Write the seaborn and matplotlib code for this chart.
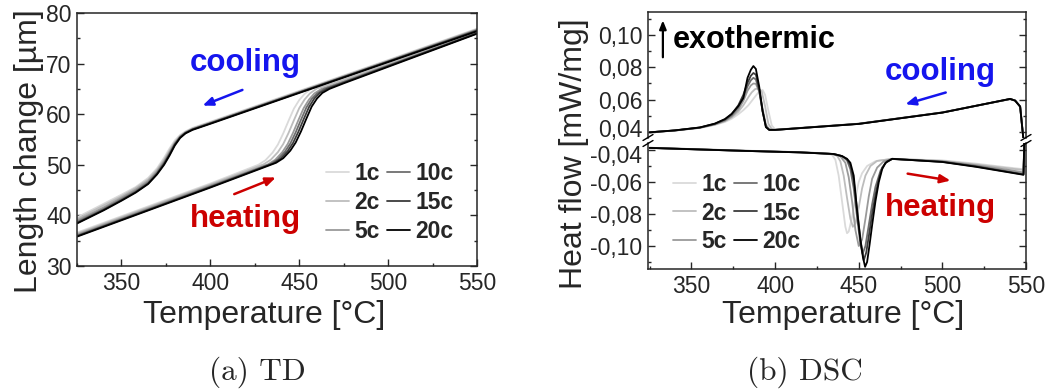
import matplotlib
matplotlib.use("Agg")
import matplotlib.pyplot as plt
import seaborn as sns
from matplotlib.ticker import MultipleLocator, FixedLocator, FuncFormatter
from matplotlib.lines import Line2D
from matplotlib.transforms import ScaledTranslation

# ---------------- data ----------------
cycles = ["1c", "2c", "5c", "10c", "15c", "20c"]
cycle_colors = ["#dadada", "#bdbdbd", "#9a9a9a", "#6e6e6e", "#3c3c3c", "#000000"]

# TD heating branch (temperature, length change)
td_heat_T_1c = [325, 400, 427, 431, 435, 438, 441, 444, 447, 450, 453, 457, 468, 550]
td_heat_L_1c = [36.6, 46.3, 50.0, 50.9, 52.4, 54.0, 56.2, 58.7, 61.1, 62.8, 64.0, 65.1, 66.3, 76.3]
td_heat_T_2c = [325, 400, 430, 434, 438, 441, 444, 447, 450, 453, 456, 460, 470, 550]
td_heat_L_2c = [36.4, 46.1, 50.1, 51.0, 52.5, 54.1, 56.3, 58.8, 61.2, 62.9, 64.1, 65.1, 66.2, 76.2]
td_heat_T_5c = [325, 400, 432.5, 436.5, 440.5, 443.5, 446.5, 449.5, 452.5, 455.5, 458.5, 462.5, 472, 550]
td_heat_L_5c = [36.2, 45.9, 50.1, 51.0, 52.5, 54.1, 56.3, 58.8, 61.2, 62.9, 64.1, 65.0, 66.1, 76.1]
td_heat_T_10c = [325, 400, 434, 438, 442, 445, 448, 451, 454, 457, 460, 464, 473, 550]
td_heat_L_10c = [36.0, 45.7, 50.2, 51.1, 52.6, 54.2, 56.4, 58.9, 61.3, 63.0, 64.1, 65.0, 66.1, 76.0]
td_heat_T_15c = [325, 400, 435.5, 439.5, 443.5, 446.5, 449.5, 452.5, 455.5, 458.5, 461.5, 465.5, 474, 550]
td_heat_L_15c = [35.9, 45.6, 50.3, 51.2, 52.7, 54.3, 56.5, 59.0, 61.4, 63.1, 64.2, 65.0, 66.1, 76.0]
td_heat_T_20c = [325, 400, 437, 441, 445, 448, 451, 454, 457, 460, 463, 467, 475, 550]
td_heat_L_20c = [35.8, 45.5, 50.4, 51.3, 52.8, 54.4, 56.6, 59.1, 61.5, 63.1, 64.2, 65.0, 66.1, 75.9]

# TD cooling branch
td_cool_T = [550, 500, 450, 400, 390, 386, 383, 380, 377, 374, 370, 365, 358, 350, 340, 325]
td_cool_L_1c = [76.9, 70.7, 64.6, 58.5, 57.3, 56.6, 55.9, 54.8, 53.2, 51.4, 49.3, 47.4, 45.6, 44.1, 42.3, 39.6]
td_cool_L_2c = [76.8, 70.6, 64.5, 58.4, 57.2, 56.5, 55.7, 54.5, 52.8, 51.0, 49.0, 47.1, 45.4, 43.8, 42.0, 39.3]
td_cool_L_5c = [76.7, 70.5, 64.4, 58.3, 57.1, 56.4, 55.6, 54.3, 52.5, 50.7, 48.7, 46.8, 45.1, 43.5, 41.6, 39.0]
td_cool_L_10c = [76.6, 70.4, 64.3, 58.2, 57.0, 56.3, 55.5, 54.1, 52.2, 50.4, 48.4, 46.5, 44.8, 43.2, 41.3, 38.7]
td_cool_L_15c = [76.5, 70.4, 64.3, 58.2, 57.0, 56.3, 55.4, 54.0, 52.0, 50.2, 48.2, 46.3, 44.6, 43.0, 41.1, 38.5]
td_cool_L_20c = [76.4, 70.3, 64.2, 58.1, 56.9, 56.2, 55.3, 53.8, 51.8, 50.0, 48.1, 46.2, 44.5, 42.9, 41.0, 38.4]

# DSC cooling branch (temperature, heat flow)
dsc_cool_T_1c = [548.5, 546.5, 543.5, 540.5, 500, 450, 402, 400, 398, 396, 394, 392.5, 390, 387, 384, 381, 378, 374, 370, 364, 355, 340, 325]
dsc_cool_V_1c = [0.035, 0.0558, 0.0595, 0.0603, 0.0521, 0.0452, 0.0415, 0.0417, 0.0440, 0.0530, 0.0630, 0.0660, 0.0645, 0.0605, 0.0565, 0.0535, 0.0510, 0.0482, 0.0462, 0.0444, 0.0425, 0.0409, 0.0399]
dsc_cool_T_2c = [548.5, 546.5, 543.5, 540.5, 500, 450, 400, 398, 396, 394, 392, 390, 388, 386, 384, 381, 378, 374, 370, 364, 355, 340, 325]
dsc_cool_V_2c = [0.035, 0.0558, 0.0595, 0.0604, 0.0521, 0.0451, 0.0414, 0.0418, 0.0450, 0.0560, 0.0650, 0.0670, 0.0665, 0.0645, 0.0615, 0.0565, 0.0525, 0.0490, 0.0467, 0.0446, 0.0426, 0.0409, 0.0398]
dsc_cool_T = [548.5, 546.5, 543.5, 540.5, 500, 450, 400, 396.5, 394.5, 392.5, 390.5, 388.5, 387, 385.5, 383.5, 381, 378, 374, 370, 364, 355, 340, 325]
dsc_cool_V_5c = [0.035, 0.0558, 0.0595, 0.0604, 0.0521, 0.0451, 0.0414, 0.0416, 0.0445, 0.0545, 0.0650, 0.0698, 0.0700, 0.0688, 0.0655, 0.0592, 0.0538, 0.0495, 0.0469, 0.0447, 0.0426, 0.0409, 0.0398]
dsc_cool_V_10c = [0.035, 0.0558, 0.0595, 0.0604, 0.0521, 0.0451, 0.0413, 0.0414, 0.0436, 0.0530, 0.0650, 0.0725, 0.0735, 0.0720, 0.0682, 0.0612, 0.0552, 0.0503, 0.0474, 0.0449, 0.0427, 0.0409, 0.0398]
dsc_cool_V_15c = [0.035, 0.0557, 0.0594, 0.0604, 0.0520, 0.0450, 0.0413, 0.0413, 0.0432, 0.0528, 0.0665, 0.0755, 0.0765, 0.0748, 0.0705, 0.0630, 0.0565, 0.0510, 0.0478, 0.0451, 0.0428, 0.0410, 0.0398]
dsc_cool_V_20c = [0.035, 0.0557, 0.0594, 0.0605, 0.0520, 0.0450, 0.0413, 0.0413, 0.0430, 0.0530, 0.0680, 0.0790, 0.0808, 0.0785, 0.0735, 0.0610, 0.0560, 0.0512, 0.0480, 0.0452, 0.0428, 0.0410, 0.0398]

# DSC heating branch
dsc_heat_T_1c = [325, 380, 415, 430, 434, 436, 438, 440, 442, 443, 444, 446, 448, 450, 452, 455, 460, 470, 500, 520, 540, 548.5, 549]
dsc_heat_V_1c = [-0.0386, -0.0403, -0.0413, -0.0420, -0.0430, -0.0460, -0.0560, -0.0720, -0.0880, -0.0920, -0.0910, -0.0820, -0.0700, -0.0600, -0.0545, -0.0500, -0.0470, -0.0455, -0.0465, -0.0485, -0.0510, -0.0520, -0.035]
dsc_heat_T_2c = [325, 380, 415, 432, 437, 439, 441, 443, 445, 446.5, 448, 450, 452, 454, 457, 461, 470, 500, 520, 540, 548.5, 549]
dsc_heat_V_2c = [-0.0386, -0.0404, -0.0414, -0.0422, -0.0435, -0.0470, -0.0560, -0.0700, -0.0830, -0.0880, -0.0860, -0.0760, -0.0640, -0.0560, -0.0500, -0.0468, -0.0455, -0.0468, -0.0490, -0.0515, -0.0525, -0.035]
dsc_heat_T_5c = [325, 380, 415, 434, 439, 442, 444, 446, 448, 450, 452, 454, 456, 458, 461, 465, 470, 500, 520, 540, 548.5, 549]
dsc_heat_V_5c = [-0.0386, -0.0404, -0.0414, -0.0424, -0.0440, -0.0480, -0.0570, -0.0720, -0.0900, -0.1000, -0.0960, -0.0830, -0.0690, -0.0580, -0.0510, -0.0470, -0.0456, -0.0470, -0.0495, -0.0525, -0.0540, -0.035]
dsc_heat_T_10c = [325, 380, 415, 435, 440, 443, 445, 447, 449, 451, 452.3, 454, 456, 458, 460, 463, 466, 470, 500, 520, 540, 548.5, 549]
dsc_heat_V_10c = [-0.0387, -0.0405, -0.0415, -0.0425, -0.0438, -0.0465, -0.0520, -0.0640, -0.0820, -0.0990, -0.1050, -0.1000, -0.0870, -0.0740, -0.0630, -0.0530, -0.0480, -0.0456, -0.0473, -0.0500, -0.0535, -0.0550, -0.035]
dsc_heat_T_15c = [325, 380, 415, 435, 440, 443, 445, 447, 449, 451, 453, 454.5, 456, 458, 460, 462, 464, 467, 470, 500, 520, 540, 548.5, 549]
dsc_heat_V_15c = [-0.0387, -0.0405, -0.0415, -0.0425, -0.0438, -0.0458, -0.0495, -0.0590, -0.0770, -0.0960, -0.1090, -0.1040, -0.0940, -0.0800, -0.0680, -0.0580, -0.0510, -0.0470, -0.0456, -0.0474, -0.0503, -0.0538, -0.0553, -0.035]
dsc_heat_T_20c = [325, 380, 415, 435, 440, 443, 445, 447, 449, 451, 452.5, 453.8, 455, 456.5, 458, 460, 462, 464, 466, 470, 500, 520, 540, 548.5, 549]
dsc_heat_V_20c = [-0.0387, -0.0405, -0.0415, -0.0425, -0.0438, -0.0455, -0.0480, -0.0560, -0.0780, -0.0960, -0.1070, -0.1130, -0.1100, -0.0990, -0.0870, -0.0720, -0.0600, -0.0520, -0.0480, -0.0455, -0.0475, -0.0505, -0.0540, -0.0555, -0.035]

td_xticks = [350, 400, 450, 500, 550]
td_yticks = [30, 40, 50, 60, 70, 80]
dsc_xticks = [350, 400, 450, 500, 550]
dsc_up_yticks = [0.04, 0.06, 0.08, 0.10]
dsc_low_yticks = [-0.10, -0.08, -0.06, -0.04]

# ---------------- style ----------------
sns.set_style("ticks")
plt.rcParams["font.family"] = ["Liberation Sans", "DejaVu Sans"]

W, H = 1053, 392
fig = plt.figure(figsize=(W / 100, H / 100), dpi=100)


def fx(px):
    return px / W


def fy(py):
    return 1 - py / H


axL = fig.add_axes([fx(77), fy(266), 400 / W, 253 / H])
axU = fig.add_axes([fx(648), fy(138), 378 / W, 126 / H])
axD = fig.add_axes([fx(648), fy(269), 378 / W, 126 / H])

LW = 1.3
td_heat = [(td_heat_T_1c, td_heat_L_1c), (td_heat_T_2c, td_heat_L_2c), (td_heat_T_5c, td_heat_L_5c),
           (td_heat_T_10c, td_heat_L_10c), (td_heat_T_15c, td_heat_L_15c), (td_heat_T_20c, td_heat_L_20c)]
td_cool = [td_cool_L_1c, td_cool_L_2c, td_cool_L_5c, td_cool_L_10c, td_cool_L_15c, td_cool_L_20c]
dsc_cool = [(dsc_cool_T_1c, dsc_cool_V_1c), (dsc_cool_T_2c, dsc_cool_V_2c), (dsc_cool_T, dsc_cool_V_5c),
            (dsc_cool_T, dsc_cool_V_10c), (dsc_cool_T, dsc_cool_V_15c), (dsc_cool_T, dsc_cool_V_20c)]
dsc_heat = [(dsc_heat_T_1c, dsc_heat_V_1c), (dsc_heat_T_2c, dsc_heat_V_2c), (dsc_heat_T_5c, dsc_heat_V_5c),
            (dsc_heat_T_10c, dsc_heat_V_10c), (dsc_heat_T_15c, dsc_heat_V_15c), (dsc_heat_T_20c, dsc_heat_V_20c)]

for i, c in enumerate(cycle_colors):
    sns.lineplot(x=td_heat[i][0], y=td_heat[i][1], ax=axL, color=c, lw=LW, sort=False, estimator=None, legend=False)
    sns.lineplot(x=td_cool_T, y=td_cool[i], ax=axL, color=c, lw=LW, sort=False, estimator=None, legend=False)
    sns.lineplot(x=dsc_cool[i][0], y=dsc_cool[i][1], ax=axU, color=c, lw=LW, sort=False, estimator=None, legend=False)
    sns.lineplot(x=dsc_heat[i][0], y=dsc_heat[i][1], ax=axD, color=c, lw=LW, sort=False, estimator=None, legend=False)

TICK_FS = 16.5
for ax in (axL, axU, axD):
    ax.tick_params(which="both", direction="in", right=True, top=False, labelsize=TICK_FS, width=1, pad=4)
    ax.tick_params(which="major", length=5)
    ax.tick_params(which="minor", length=2.5)
    for s in ax.spines.values():
        s.set_linewidth(1.1)
    ax.set_xlabel("")
    ax.set_ylabel("")

# left panel
axL.set_xlim(325, 550)
axL.set_ylim(30, 80)
axL.xaxis.set_major_locator(FixedLocator(td_xticks))
axL.xaxis.set_minor_locator(MultipleLocator(25))
axL.yaxis.set_major_locator(FixedLocator(td_yticks))
axL.yaxis.set_minor_locator(MultipleLocator(5))
axL.set_xlabel("Temperature [°C]", fontsize=23)
axL.xaxis.set_label_coords((264 - 77) / 400, (266 - 300) / 253)
axL.set_ylabel("Length change [µm]", fontsize=23)
axL.yaxis.set_label_coords((44 - 77) / 400, (266 - 151.5) / 253)

# right panel (broken axis)
fmt = FuncFormatter(lambda v, p: f"{v:.2f}".replace(".", ","))
for ax in (axU, axD):
    ax.set_xlim(324, 550)
    ax.xaxis.set_major_locator(FixedLocator(dsc_xticks))
    ax.xaxis.set_minor_locator(MultipleLocator(25))
    ax.yaxis.set_minor_locator(MultipleLocator(0.01))
    ax.yaxis.set_major_formatter(fmt)
axU.set_ylim(0.04 - 6 / 1616.7, 0.10 + 23 / 1616.7)
axD.set_ylim(-0.10 - 23 / 1600, -0.04 + 7 / 1600)
axU.yaxis.set_major_locator(FixedLocator(dsc_up_yticks))
axD.yaxis.set_major_locator(FixedLocator(dsc_low_yticks))
axU.spines["bottom"].set_visible(False)
axD.spines["top"].set_visible(False)
axU.tick_params(which="both", bottom=False, labelbottom=False)
axD.set_xlabel("Temperature [°C]", fontsize=23)
axD.xaxis.set_label_coords((843 - 648) / 378, (269 - 300) / 126)
axU.set_ylabel("Heat flow [mW/mg]", fontsize=23)
axU.yaxis.set_label_coords((589 - 648) / 378, (138 - 154) / 126)

# nudge the two tick labels at the break apart so they do not collide
fig.canvas.draw()
for lab in axU.get_yticklabels():
    if lab.get_text() == "0,04":
        lab.set_transform(lab.get_transform() + ScaledTranslation(0, 4 / 100, fig.dpi_scale_trans))
for lab in axD.get_yticklabels():
    if lab.get_text() == "-0,04":
        lab.set_transform(lab.get_transform() + ScaledTranslation(0, -4 / 100, fig.dpi_scale_trans))

# break marks
for bx in (648, 1026):
    for by in (137.5, 143.5):
        fig.add_artist(Line2D([fx(bx - 5), fx(bx + 5)], [fy(by + 3), fy(by - 3)],
                              color="black", lw=1.0, transform=fig.transFigure))

# annotations
BLUE = "#1515ee"
RED = "#cc0000"
TXT_FS = 22.5
axL.text(419.5, 70.2, "cooling", color=BLUE, fontsize=TXT_FS, fontweight="bold", ha="center", va="center")
axL.text(420.0, 39.3, "heating", color=RED, fontsize=TXT_FS, fontweight="bold", ha="center", va="center")
axL.annotate("", xy=(394.2, 61.5), xytext=(419.5, 65.0),
             arrowprops=dict(arrowstyle="-|>,head_length=0.6,head_width=0.25", color=BLUE, lw=1.8))
axL.annotate("", xy=(438.3, 47.7), xytext=(412.0, 44.0),
             arrowprops=dict(arrowstyle="-|>,head_length=0.6,head_width=0.25", color=RED, lw=1.8))

axU.text(499, 0.0771, "cooling", color=BLUE, fontsize=TXT_FS, fontweight="bold", ha="center", va="center")
axD.text(499, -0.0762, "heating", color=RED, fontsize=TXT_FS, fontweight="bold", ha="center", va="center")
axU.annotate("", xy=(476.3, 0.0567), xytext=(503.6, 0.0649),
             arrowprops=dict(arrowstyle="-|>,head_length=0.6,head_width=0.25", color=BLUE, lw=1.8))
axD.annotate("", xy=(506.5, -0.0594), xytext=(477.6, -0.0545),
             arrowprops=dict(arrowstyle="-|>,head_length=0.6,head_width=0.25", color=RED, lw=1.8))

axU.text(339.0, 0.0968, "exothermic", color="black", fontsize=22, fontweight="bold", ha="left", va="center")
axU.annotate("", xy=(332.9, 0.1108), xytext=(332.9, 0.0845),
             arrowprops=dict(arrowstyle="-|>,head_length=0.5,head_width=0.2", color="black", lw=1.6))

# legends
handles = [Line2D([0], [0], color=c, lw=LW) for c in cycle_colors]
leg_kw = dict(ncol=2, frameon=False, handlelength=1.0, handletextpad=0.25, columnspacing=0.3,
              labelspacing=0.26, borderpad=0, borderaxespad=0,
              prop={"weight": "bold", "size": 16.5, "family": ["Liberation Sans", "DejaVu Sans"]},
              loc="center", bbox_transform=fig.transFigure)
axL.legend(handles, cycles, bbox_to_anchor=(fx(390), fy(202.7)), **leg_kw)
axD.legend(handles, cycles, bbox_to_anchor=(fx(737), fy(213)), **leg_kw)

# captions
fig.text(fx(257), fy(372), "(a) TD", fontsize=22.5, family="cmr10", ha="center", va="center")
fig.text(fx(805), fy(372), "(b) DSC", fontsize=22.5, family="cmr10", ha="center", va="center")

fig.savefig("out.png", dpi=100)
